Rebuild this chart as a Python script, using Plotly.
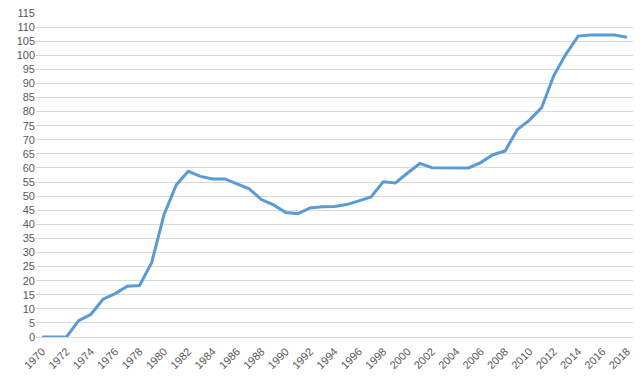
import plotly.graph_objects as go

years = list(range(1970, 2019))
values = [0, 0, 0, 5.8, 8.0, 13.4, 15.4, 18.0, 18.3, 26.5,
          43.3, 53.9, 58.8, 57.0, 56.1, 56.1, 54.4, 52.6, 48.8, 46.9,
          44.2, 43.8, 45.8, 46.2, 46.3, 47.0, 48.3, 49.7, 55.1, 54.7,
          58.2, 61.6, 60.1, 60.0, 60.0, 60.0, 61.9, 64.7, 66.0, 73.6,
          77.0, 81.4, 92.8, 100.4, 106.8, 107.2, 107.2, 107.2, 106.4]
tick_years = list(range(1970, 2019, 2))
y_ticks = list(range(0, 116, 5))

fig = go.Figure()
fig.add_trace(go.Scatter(x=years, y=values, mode="lines",
                         line=dict(color="#5B9BD5", width=3), showlegend=False))

# page body has an 8px default margin, so the figure is sized/offset to compensate
fig.update_layout(
    width=634, height=372,
    margin=dict(l=28, r=9, t=5, b=43, autoexpand=False),
    paper_bgcolor="white", plot_bgcolor="white",
    font=dict(family="Liberation Sans, Arial, sans-serif", size=11, color="#595959"),
    xaxis=dict(range=[1969.5, 2018.5], tickvals=tick_years,
               ticktext=[str(y) for y in tick_years], tickangle=-45,
               showgrid=False, zeroline=False, showline=False, ticks="",
               automargin=False, ticklabeloverflow="allow",
               ticklabelstandoff=5),
    yaxis=dict(range=[0, 115], tickvals=y_ticks, showgrid=True,
               gridcolor="#D9D9D9", gridwidth=1, zeroline=True,
               zerolinecolor="#D9D9D9", zerolinewidth=1, ticks="",
               showline=False, automargin=False, ticklabeloverflow="allow"),
)
fig.write_html("out.html")
